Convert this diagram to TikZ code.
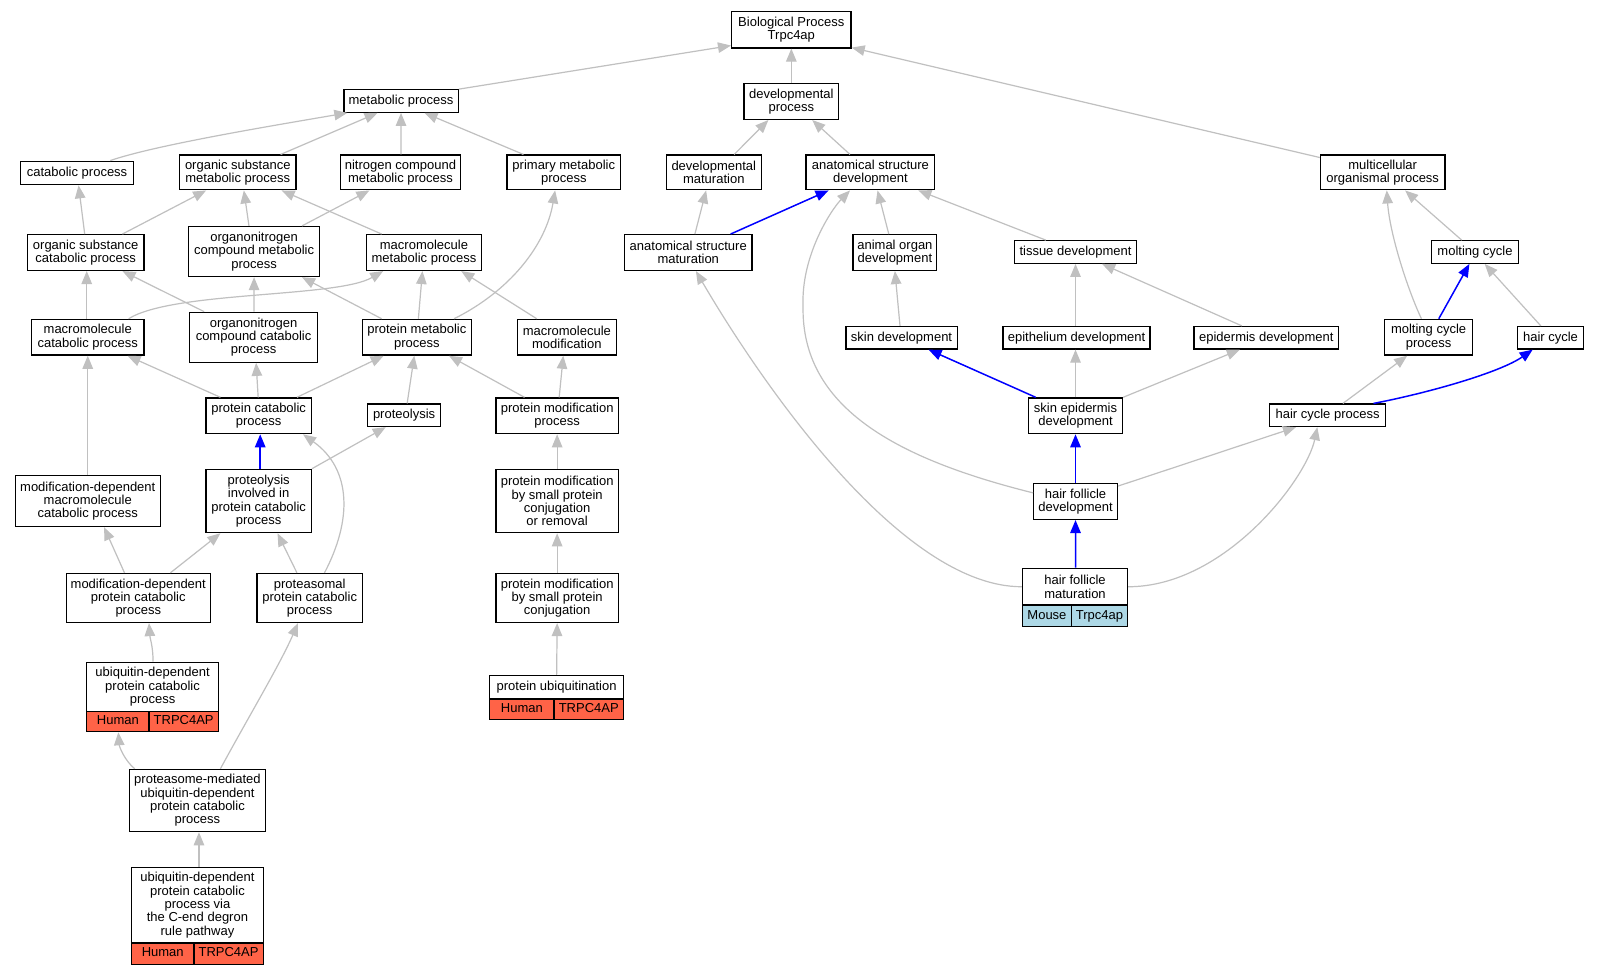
\documentclass[tikz,border=0pt]{standalone}
\usepackage{fontspec}
\setmainfont{Liberation Sans}
\usetikzlibrary{arrows.meta,calc}
\definecolor{eg}{HTML}{C0C0C0}
\definecolor{hum}{HTML}{FF6347}
\definecolor{mou}{HTML}{ADD8E6}
\newcommand\bx[7][fill=white]{\node[gbox,#1,minimum width={(#5-#3)*1.0204pt},minimum height={(#6-#4)*1.0204pt}] (#2) at ({(#3+#5)/2},{(#4+#6)/2}) {#7};}
\newcommand\ee[5][gedge]{\draw[#1] ($(#2.north)+(#3,0)$) -- ($(#4.south)+(#5,0)$);}
\begin{document}
\begin{tikzpicture}[x=1.0204pt,y=-1.0204pt,
  gbox/.style={draw=black,line width=1.3pt,inner sep=0pt,align=center,font=\fontsize{13}{13.3}\selectfont},
  hcell/.style={fill=hum,text height=9.4pt,text depth=2.6pt},
  mcell/.style={fill=mou,text height=9.4pt,text depth=2.6pt},
  gedge/.style={draw=eg,line width=1.2pt,-{Triangle[length=13pt,width=10.5pt]}},
  bedge/.style={gedge,draw=blue,line width=1.5pt}]
\useasboundingbox (0,0) rectangle (1568,956.5);
\fill[white] (0,0) rectangle (1568,956.5);
% left cluster
\bx{met}{337}{88}{449}{110}{metabolic process}
\bx{cat}{20}{158}{131}{181}{catabolic process}
\bx{osm}{176}{152}{290}{186}{organic substance\\metabolic process}
\bx{ncm}{334}{152}{451}{186}{nitrogen compound\\metabolic process}
\bx{pmp}{497}{152}{608}{186}{primary metabolic\\process}
\bx{osc}{27}{230}{141}{265}{organic substance\\catabolic process}
\bx{onm}{185}{222}{313}{271}{organonitrogen\\compound metabolic\\process}
\bx{mmp}{359}{230}{472}{265}{macromolecule\\metabolic process}
\bx{mcp}{31}{313}{141}{348}{macromolecule\\catabolic process}
\bx{onc}{186}{306}{311}{355}{organonitrogen\\compound catabolic\\process}
\bx{prm}{355}{313}{462}{348}{protein metabolic\\process}
\bx{mmo}{507}{313}{604}{348}{macromolecule\\modification}
\bx{pcp}{202}{390}{305}{425}{protein catabolic\\process}
\bx{ptl}{360}{396}{432}{418}{proteolysis}
\bx{pmd}{486}{390}{606}{425}{protein modification\\process}
\bx{mdm}{15}{466}{157}{516}{modification-dependent\\macromolecule\\catabolic process}
\bx{pip}{202}{460}{305}{522}{proteolysis\\involved in\\protein catabolic\\process}
\bx{psr}{486}{460}{606}{522}{protein modification\\by small protein\\conjugation\\or removal}
\bx{mdp}{65}{562}{206}{610}{modification-dependent\\protein catabolic\\process}
\bx{pas}{252}{562}{355}{610}{proteasomal\\protein catabolic\\process}
\bx{psc}{486}{562}{606}{610}{protein modification\\by small protein\\conjugation}
\bx{udp}{85}{649}{214}{697}{ubiquitin-dependent\\protein catabolic\\process}
\bx[hcell]{udpA}{85}{697}{146}{717}{Human}
\bx[hcell]{udpB}{146}{697}{214}{717}{TRPC4AP}
\bx{pub}{480}{662}{611}{685}{protein ubiquitination}
\bx[hcell]{pubA}{480}{685}{543}{705}{Human}
\bx[hcell]{pubB}{543}{685}{611}{705}{TRPC4AP}
\bx{pmu}{127}{754}{260}{815}{proteasome-mediated\\ubiquitin-dependent\\protein catabolic\\process}
\bx{ucd}{129}{850}{258}{924}{ubiquitin-dependent\\protein catabolic\\process via\\the C-end degron\\rule pathway}
\bx[hcell]{ucdA}{129}{924}{190}{945}{Human}
\bx[hcell]{ucdB}{190}{924}{258}{945}{TRPC4AP}
% right cluster
\bx{BP}{717}{11}{834}{47}{Biological Process\\Trpc4ap}
\bx{dvp}{729}{82}{822}{117}{developmental\\process}
\bx{dvm}{653}{152}{746}{186}{developmental\\maturation}
\bx{asd}{790}{152}{916}{186}{anatomical structure\\development}
\bx{mop}{1294}{152}{1416}{186}{multicellular\\organismal process}
\bx{asm}{612}{230}{737}{265}{anatomical structure\\maturation}
\bx{aod}{836}{230}{918}{265}{animal organ\\development}
\bx{tsd}{994}{236}{1114}{258}{tissue development}
\bx{mlc}{1403}{236}{1488}{258}{molting cycle}
\bx{skd}{829}{320}{938}{342}{skin development}
\bx{epi}{983}{320}{1127}{342}{epithelium development}
\bx{epd}{1170}{320}{1312}{342}{epidermis development}
\bx{mcq}{1357}{313}{1443}{348}{molting cycle\\process}
\bx{hcy}{1487}{320}{1552}{342}{hair cycle}
\bx{sed}{1008}{390}{1100}{425}{skin epidermis\\development}
\bx{hcp}{1244}{396}{1358}{418}{hair cycle process}
\bx{hfd}{1013}{474}{1095}{509}{hair follicle\\development}
\bx{hfm}{1002}{557}{1105}{593}{hair follicle\\maturation}
\bx[mcell]{hfmA}{1002}{593}{1050}{614}{Mouse}
\bx[mcell]{hfmB}{1050}{593}{1105}{614}{Trpc4ap}
% edges left
\draw[gedge] (met.north east) -- ($(BP.south west)+(0,-3)$);
\ee{dvp}{0}{BP}{0}
\draw[gedge] ($(mop.north west)+(0,3)$) -- ($(BP.south east)+(0,-1)$);
\draw[gedge] ($(cat.north)+(32.5,0)$) .. controls (150,143) and (250,126) .. ($(met.south west)+(4,0)$);
\ee{osm}{42}{met}{-23}
\ee{ncm}{0.5}{met}{0}
\ee{pmp}{-39.5}{met}{23}
\ee{osc}{-1}{cat}{1.5}
\ee{osc}{36}{osm}{-31}
\ee{onm}{-5}{osm}{6}
\ee{onm}{47}{ncm}{-30.5}
\ee{mmp}{-41.5}{osm}{43}
\ee{mcp}{-1}{osc}{1}
\draw[gedge] ($(mcp.north)+(40,0)$) .. controls (170,285) and (330,292) .. ($(mmp.south)+(-40,0)$);
\ee{onc}{-48.5}{osc}{36}
\ee{onc}{0.5}{onm}{0}
\ee{prm}{-34.5}{onm}{47}
\ee{prm}{1.5}{mmp}{-1.5}
\draw[gedge] ($(prm.north)+(36.5,0)$) .. controls (500,285) and (535,240) .. ($(pmp.south)+(-8.5,0)$);
\ee{mmo}{-29.5}{mmp}{36.5}
\ee{pcp}{-37.5}{mcp}{39}
\ee{pcp}{-0.5}{onc}{2.5}
\ee{pcp}{37.5}{prm}{-32.5}
\ee{ptl}{3}{prm}{-2.5}
\ee{pmd}{-32}{prm}{31.5}
\ee{pmd}{2}{mmo}{-3.5}
\ee{mdm}{0}{mcp}{0}
\ee[bedge]{pip}{1.5}{pcp}{1.5}
\draw[gedge] (pip.north east) -- ($(ptl.south)+(-18,0)$);
\ee{psr}{0}{pmd}{0}
\ee{mdp}{-13.5}{mdm}{16}
\ee{mdp}{31.5}{pip}{-37.5}
\ee{pas}{-12.5}{pip}{18.5}
\draw[gedge] ($(pas.north)+(14.5,0)$) .. controls (345,510) and (345,460) .. ($(pcp.south)+(43.5,0)$);
\ee{psc}{0}{psr}{0}
\draw[gedge] ($(udp.north)+(0.5,0)$) .. controls +(0,-15) and +(1,15) .. ($(mdp.south)+(10.5,0)$);
\ee{pub}{0}{psc}{0}
\draw[gedge] ($(pmu.north)+(-61.5,0)$) .. controls (122,745) and (117,732) .. ($(udpA.south)+(0.5,0)$);
\draw[gedge] ($(pmu.north)+(22.5,0)$) .. controls (245,700) and (275,650) .. ($(pas.south)+(-11.5,0)$);
\ee{ucd}{1.5}{pmu}{1.5}
% edges right
\ee{dvm}{20}{dvp}{-22.5}
\ee{asd}{-20}{dvp}{20.5}
\ee{asm}{6.5}{dvm}{-7.5}
\ee[bedge]{asm}{41.5}{asd}{-41}
\ee{aod}{-6}{asd}{7}
\ee{tsd}{-29}{asd}{47}
\ee{skd}{-1.5}{aod}{0}
\ee{epi}{-1}{tsd}{0}
\ee{epd}{-24}{tsd}{26}
\draw[gedge] ($(mcq.north)+(-7,0)$) .. controls (1380,285) and (1362,230) .. ($(mop.south)+(4,0)$);
\ee[bedge]{mcq}{10}{mlc}{-5.5}
\ee{mlc}{-13}{mop}{22}
\ee{hcy}{-9.5}{mlc}{9.5}
\ee[bedge]{sed}{-39}{skd}{26.5}
\ee{sed}{0}{epi}{-1}
\draw[gedge] (sed.north east) -- ($(epd.south)+(-26,0)$);
\ee[bedge]{hfd}{0}{sed}{0}
\draw[gedge] ($(hfd.west)+(0,-8.5)$) .. controls (880,450) and (785,400) .. (787,300) .. controls (785,250) and (815,205) .. ($(asd.south)+(-20,0)$);
\draw[gedge] ($(hfd.north east)+(0,3)$) -- ($(hcp.south)+(-31,0)$);
\ee[bedge]{hfm}{0.5}{hfd}{0}
\draw[gedge] (hfm.west) .. controls (880,575) and (740,365) .. ($(asm.south)+(7.5,0)$);
\draw[gedge] (hfm.east) .. controls (1200,575) and (1280,470) .. ($(hcp.south)+(-10,0)$);
\ee{hcp}{15}{mcq}{-21}
\draw[bedge] ($(hcp.north)+(45,0)$) .. controls (1400,385) and (1470,365) .. ($(hcy.south)+(-17.5,0)$);
\end{tikzpicture}
\end{document}
